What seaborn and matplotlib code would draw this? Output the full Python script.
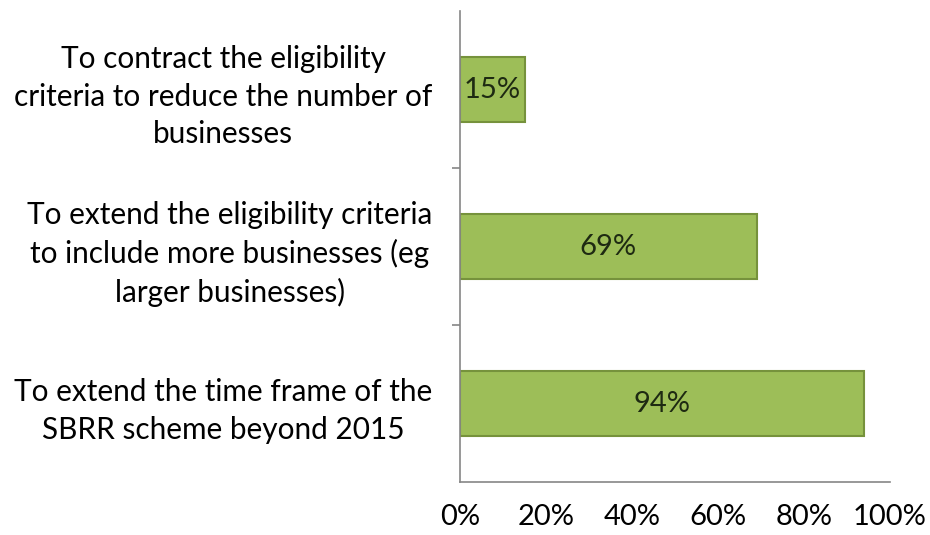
import matplotlib
matplotlib.use("Agg")
import matplotlib.pyplot as plt
import seaborn as sns
import pandas as pd

categories = [
    "To contract the eligibility\ncriteria to reduce the number of\nbusinesses",
    "To extend the eligibility criteria\nto include more businesses (eg\nlarger businesses)",
    "To extend the time frame of the\nSBRR scheme beyond 2015",
]
values = [15, 69, 94]
bar_labels = ["15%", "69%", "94%"]
x_ticks = [0, 20, 40, 60, 80, 100]
x_tick_labels = ["0%", "20%", "40%", "60%", "80%", "100%"]

df = pd.DataFrame({"category": categories, "value": values})

sns.set_style("white")
plt.rcParams["font.family"] = ["Lato", "DejaVu Sans"]

fig = plt.figure(figsize=(9.3, 5.35), dpi=100)
ax = fig.add_axes([460 / 930, 1 - 482 / 535, 430 / 930, 471 / 535])

sns.barplot(data=df, x="value", y="category", orient="h", ax=ax,
            color="#9DBE58", edgecolor="#76923C", linewidth=1.5,
            width=0.41, saturation=1)

for p, lab in zip(ax.patches, bar_labels):
    cx = p.get_x() + p.get_width() / 2
    cy = p.get_y() + p.get_height() / 2
    ax.text(cx, cy, lab, ha="center", va="center", fontsize=21, color="#1E2A12")

ax.set_xlim(0, 100)
ax.set_ylim(2.5, -0.5)
ax.set_xticks(x_ticks)
ax.set_xticklabels(x_tick_labels, fontsize=21)
ax.set_yticks([0, 1, 2])
ax.set_yticklabels(categories, fontsize=21.4, multialignment="center", linespacing=1.42)
ax.set_yticks([0.5, 1.5], minor=True)
ax.set_xlabel("")
ax.set_ylabel("")

for s in ["top", "right"]:
    ax.spines[s].set_visible(False)
for s in ["left", "bottom"]:
    ax.spines[s].set_color("#868686")
    ax.spines[s].set_linewidth(1.2)

ax.tick_params(axis="x", which="major", direction="out", length=6, width=1.2,
               color="#868686", pad=10, labelcolor="black")
ax.tick_params(axis="y", which="major", length=0, pad=20, labelcolor="black")
ax.tick_params(axis="y", which="minor", direction="out", length=6, width=1.2,
               color="#868686", left=True)

fig.savefig("out.png", dpi=100)
